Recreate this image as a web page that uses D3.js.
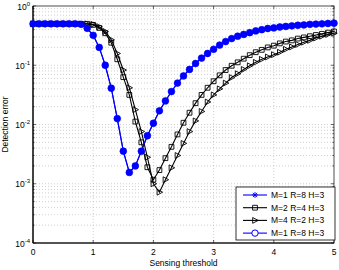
<!DOCTYPE html>
<html><head><meta charset="utf-8">
<script src="https://cdn.jsdelivr.net/npm/d3@7"></script>
<style>body{margin:0;background:#fff} text{font-family:"Liberation Sans",Arial,sans-serif}</style>
</head><body><svg id="c" width="339" height="270"></svg>
<script>
const thresholds = [0,0.1,0.2,0.3,0.4,0.5,0.6,0.7,0.8,0.9,1.0,1.1,1.2,1.3,1.4,1.5,1.6,1.7,1.8,1.9,2.0,2.1,2.2,2.3,2.4,2.5,2.6,2.7,2.8,2.9,3.0,3.1,3.2,3.3,3.4,3.5,3.6,3.7,3.8,3.9,4.0,4.1,4.2,4.3,4.4,4.5,4.6,4.7,4.8,4.9,5.0];
const seriesNames = ["M=1 R=8 H=3","M=2 R=4 H=3","M=4 R=2 H=3","M=1 R=8 H=3"];
const errM1R8 = [0.5,0.5,0.5,0.5,0.5,0.5,0.5,0.5,0.49,0.42,0.32,0.20,0.10,0.041,0.0126,0.00355,0.00155,0.0020,0.00355,0.00646,0.0105,0.017,0.025,0.036,0.050,0.066,0.085,0.107,0.132,0.158,0.186,0.219,0.251,0.282,0.309,0.331,0.355,0.380,0.398,0.417,0.427,0.442,0.452,0.462,0.473,0.479,0.49,0.495,0.50,0.507,0.513];
const errM2R4 = [0.5,0.5,0.5,0.5,0.5,0.5,0.5,0.5,0.5,0.5,0.48,0.427,0.347,0.24,0.126,0.063,0.0316,0.0112,0.0050,0.0019,0.00117,0.0017,0.0027,0.0042,0.0068,0.0107,0.0158,0.0229,0.0316,0.0417,0.0537,0.0676,0.083,0.098,0.112,0.129,0.148,0.166,0.182,0.20,0.214,0.234,0.251,0.263,0.282,0.295,0.309,0.324,0.339,0.355,0.372];
const errM4R2 = [0.5,0.5,0.5,0.5,0.5,0.5,0.5,0.5,0.5,0.5,0.49,0.447,0.372,0.269,0.158,0.083,0.0417,0.0178,0.0076,0.0028,0.0010,0.00072,0.00117,0.00186,0.0030,0.0048,0.0076,0.0115,0.0166,0.024,0.0316,0.040,0.050,0.062,0.072,0.085,0.098,0.112,0.126,0.138,0.151,0.166,0.186,0.204,0.224,0.245,0.263,0.288,0.309,0.331,0.347];
const errM1R8b = errM1R8.slice();
const xTickLabels = ["0","1","2","3","4","5"];
const xTickValues = [0,1,2,3,4,5];
const yTickValues = [1e-4,1e-3,1e-2,1e-1,1];
const yTickExponents = ["-4","-3","-2","-1","0"];

const svg = d3.select("#c");
const L=33, R=334, T=6, B=243;
const x = d3.scaleLinear([0,5],[L,R]);
const y = d3.scaleLog([1e-4,1],[B,T]);

// grid
const g = svg.append("g");
const allY = y.ticks();
g.selectAll("line.gy").data(allY.filter(v=>v>1e-4 && v<1)).enter().append("line")
 .attr("x1",L).attr("x2",R).attr("y1",d=>y(d)).attr("y2",d=>y(d))
 .attr("stroke","#b0b0b0").attr("stroke-width",0.6).attr("stroke-dasharray","1,2");
g.selectAll("line.gx").data(xTickValues.filter(v=>v>0&&v<5)).enter().append("line")
 .attr("y1",T).attr("y2",B).attr("x1",d=>x(d)).attr("x2",d=>x(d))
 .attr("stroke","#b0b0b0").attr("stroke-width",0.6).attr("stroke-dasharray","1,2");

// ticks
const tk = svg.append("g").attr("stroke","#000").attr("stroke-width",0.6);
allY.forEach(v=>{
  const major = yTickValues.some(t=>Math.abs(Math.log10(t)-Math.log10(v))<1e-9);
  const len = major?3:1.6;
  tk.append("line").attr("x1",L).attr("x2",L+len).attr("y1",y(v)).attr("y2",y(v));
  tk.append("line").attr("x1",R).attr("x2",R-len).attr("y1",y(v)).attr("y2",y(v));
});
xTickValues.forEach(v=>{
  tk.append("line").attr("x1",x(v)).attr("x2",x(v)).attr("y1",B).attr("y2",B-3);
  tk.append("line").attr("x1",x(v)).attr("x2",x(v)).attr("y1",T).attr("y2",T+3);
});

// box
svg.append("rect").attr("x",L).attr("y",T).attr("width",R-L).attr("height",B-T)
 .attr("fill","none").attr("stroke","#222").attr("stroke-width",0.8);
svg.append("line").attr("x1",L).attr("x2",L).attr("y1",T).attr("y2",B).attr("stroke","#000").attr("stroke-width",1.2);
svg.append("line").attr("x1",L).attr("x2",R).attr("y1",B).attr("y2",B).attr("stroke","#000").attr("stroke-width",1.2);

// tick labels
svg.selectAll("text.xl").data(xTickValues).enter().append("text")
 .attr("x",d=>x(d)).attr("y",255).attr("text-anchor","middle").attr("font-size",8.5).text((d,i)=>xTickLabels[i]);
yTickValues.forEach((v,i)=>{
  const t = svg.append("text").attr("x",30).attr("y",y(v)+3.5).attr("text-anchor","end").attr("font-size",8.5);
  t.append("tspan").text("10");
  t.append("tspan").attr("dy",-4).attr("font-size",6).text(yTickExponents[i]);
});
svg.append("text").attr("x",L+(R-L)/2).attr("y",266).attr("text-anchor","middle").attr("font-size",8.5).text("Sensing threshold");
svg.append("text").attr("transform",`translate(8,${(T+B)/2}) rotate(-90)`).attr("text-anchor","middle").attr("font-size",8.5).text("Detection error");

// series
const blue="#0000ff";
const line = d3.line().x((d,i)=>x(thresholds[i])).y(d=>y(d));
const clip = svg.append("defs").append("clipPath").attr("id","cp").append("rect").attr("x",L-5).attr("y",T).attr("width",R-L+10).attr("height",B-T);
const P = svg.append("g").attr("clip-path","url(#cp)");

function star(s){const a=s, b=s*0.7;return `M${-a},0L${a},0M0,${-a}L0,${a}M${-b},${-b}L${b},${b}M${-b},${b}L${b},${-b}`;}
function square(s){return `M${-s},${-s}h${2*s}v${2*s}h${-2*s}Z`;}
function triR(s){return `M${-s*0.8},${-s}L${s*1.1},0L${-s*0.8},${s}Z`;}

const series = [
 {vals:errM1R8, color:blue, marker:"star"},
 {vals:errM2R4, color:"#000", marker:"square"},
 {vals:errM4R2, color:"#000", marker:"tri"},
 {vals:errM1R8b, color:blue, marker:"circle"}
];
series.forEach(s=>{
  P.append("path").attr("d",line(s.vals)).attr("fill","none").attr("stroke",s.color).attr("stroke-width",1.1);
  const m = P.append("g");
  s.vals.forEach((v,i)=>{
    const cx=x(thresholds[i]), cy=y(v);
    if(s.marker==="circle") m.append("circle").attr("cx",cx).attr("cy",cy).attr("r",3.4).attr("fill",blue).attr("stroke",blue).attr("stroke-width",0.6);
    else if(s.marker==="star") m.append("path").attr("transform",`translate(${cx},${cy})`).attr("d",star(3)).attr("stroke",blue).attr("stroke-width",0.8).attr("fill","none");
    else if(s.marker==="square") m.append("path").attr("transform",`translate(${cx},${cy})`).attr("d",square(2.4)).attr("stroke","#000").attr("stroke-width",0.9).attr("fill","none");
    else m.append("path").attr("transform",`translate(${cx},${cy})`).attr("d",triR(2.9)).attr("stroke","#000").attr("stroke-width",0.9).attr("fill","none");
  });
});

// legend
const lg = svg.append("g");
lg.append("rect").attr("x",236).attr("y",187).attr("width",99).attr("height",53).attr("fill","#fff").attr("stroke","#000").attr("stroke-width",0.8);
series.forEach((s,i)=>{
  const ly = 195 + i*12.7;
  lg.append("line").attr("x1",243).attr("x2",267).attr("y1",ly).attr("y2",ly).attr("stroke",s.color).attr("stroke-width",1.1);
  const mk = lg.append("path").attr("transform",`translate(255,${ly})`).attr("fill","none").attr("stroke",s.color).attr("stroke-width",0.9);
  if(s.marker==="star") mk.attr("d",star(3));
  else if(s.marker==="square") mk.attr("d",square(2.4));
  else if(s.marker==="tri") mk.attr("d",triR(2.9));
  else { mk.remove(); lg.append("circle").attr("cx",255).attr("cy",ly).attr("r",3.2).attr("fill","#fff").attr("stroke",blue).attr("stroke-width",1); }
  lg.append("text").attr("x",271).attr("y",ly+3).attr("font-size",8.5).text(seriesNames[i]);
});
</script></body></html>
